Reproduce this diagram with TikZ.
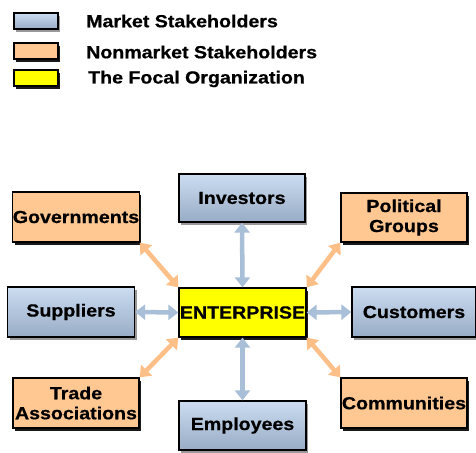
\documentclass[tikz,border=0pt]{standalone}
\usepackage{fontspec}
\newfontfamily\lab{Liberation Sans Bold}[FakeStretch=1.12,FakeBold=0.7]
\usetikzlibrary{arrows.meta,shadows}
\definecolor{mktop}{HTML}{CCDDF1}
\definecolor{mkbot}{HTML}{98ACC6}
\definecolor{nonmk}{HTML}{FFC892}
\definecolor{focal}{HTML}{FFFF00}
\definecolor{bluearr}{HTML}{A8BFD7}
\definecolor{orarr}{HTML}{FDBF88}
\begin{document}
\begin{tikzpicture}[x=1pt,y=-1pt,
  base/.style={draw=black,line width=1.3pt,inner sep=0pt,align=center,
    font=\lab\fontsize{17.5}{20}\selectfont},
  market/.style={base,top color=mktop,bottom color=mkbot,
    drop shadow={shadow xshift=2pt,shadow yshift=-3pt,fill=black!40,opacity=1}},
  nonmarket/.style={base,fill=nonmk,
    drop shadow={shadow xshift=2pt,shadow yshift=-3pt,fill=black,opacity=0.9}},
  focalbox/.style={base,fill=focal,
    drop shadow={shadow xshift=2pt,shadow yshift=-3pt,fill=black,opacity=0.9}},
  legtext/.style={anchor=west,inner sep=0pt,font=\lab\fontsize{17.5}{20}\selectfont},
  barrow/.style={draw=bluearr,line width=4.5pt,{Triangle[length=10pt,width=15pt]}-{Triangle[length=10pt,width=15pt]}},
  oarrow/.style={draw=orarr,line width=4.5pt,{Triangle[length=10pt,width=15pt]}-{Triangle[length=10pt,width=15pt]}}
]
\useasboundingbox (0,0) rectangle (476,452);
% legend
\node[market,minimum width=44pt,minimum height=16pt] (l1) at (36,21) {};
\node[nonmarket,minimum width=44pt,minimum height=16pt] (l2) at (36,51) {};
\node[focalbox,minimum width=44pt,minimum height=16pt] (l3) at (36,78) {};
\node[legtext] (t1) at (86,21) {Market Stakeholders};
\node[legtext] (t2) at (86,52) {Nonmarket Stakeholders};
\node[legtext] (t3) at (88,79) {The Focal Organization};
% nodes
\node[nonmarket,minimum width=126pt,minimum height=50pt] (gov) at (76,217) {Governments};
\node[market,minimum width=126pt,minimum height=48pt] (inv) at (242,198) {Investors};
\node[nonmarket,minimum width=126pt,minimum height=49pt] (pol) at (404,217.5) {Political\\Groups};
\node[market,minimum width=127pt,minimum height=50pt] (sup) at (71,312) {Suppliers};
\node[focalbox,minimum width=127pt,minimum height=49pt] (ent) at (242.5,312.5) {ENTERPRISE};
\node[market,minimum width=124pt,minimum height=50pt] (cus) at (414,312) {Customers};
\node[nonmarket,minimum width=126pt,minimum height=50pt] (tra) at (76,403) {Trade\\Associations};
\node[market,minimum width=127pt,minimum height=49pt] (emp) at (242.5,425.5) {Employees};
\node[nonmarket,minimum width=126pt,minimum height=50pt] (com) at (404,403) {Communities};
% connectors
\draw[barrow] (inv.south) -- (ent.north);
\draw[barrow] (emp.north) -- (ent.south);
\draw[barrow] (sup.east) -- (ent.west);
\draw[barrow] (cus.west) -- (ent.east);
\draw[oarrow] (gov.south east) -- (ent.north west);
\draw[oarrow] (pol.south west) -- (ent.north east);
\draw[oarrow] (tra.north east) -- (ent.south west);
\draw[oarrow] (com.north west) -- (ent.south east);
\end{tikzpicture}
\end{document}
